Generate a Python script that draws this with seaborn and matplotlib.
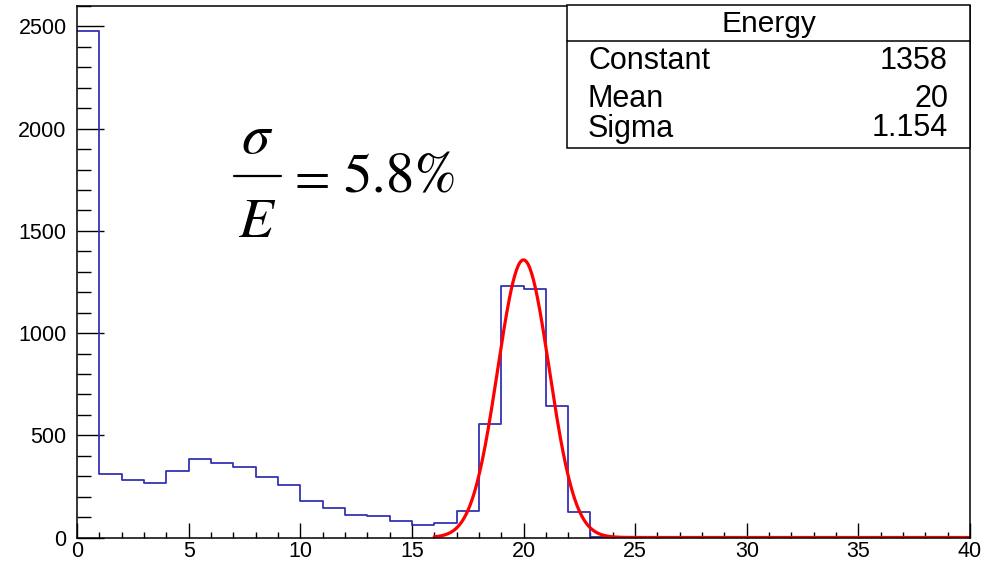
import numpy as np
import pandas as pd
import matplotlib
matplotlib.use("Agg")
import matplotlib.pyplot as plt
import seaborn as sns
from matplotlib.ticker import MultipleLocator

# ---- data ----
bin_edges = list(range(0, 41))
bin_counts = [2476, 311, 281, 268, 325, 383, 363, 344, 295, 255,
              180, 145, 110, 107, 80, 61, 72, 129, 557, 1229,
              1216, 642, 123, 3, 1, 0, 0, 0, 0, 0,
              0, 0, 0, 0, 0, 0, 0, 0, 0, 0]
fit_constant = 1358
fit_mean = 20
fit_sigma = 1.154
fit_range = [16, 40]
stat_names = ["Constant", "Mean", "Sigma"]
stat_values = ["1358", "20", "1.154"]
x_ticks = [0, 5, 10, 15, 20, 25, 30, 35, 40]
y_ticks = [0, 500, 1000, 1500, 2000, 2500]

sns.set_theme(style="white")
plt.rcParams["font.family"] = ["Liberation Sans", "DejaVu Sans"]
plt.rcParams["mathtext.fontset"] = "stix"
plt.rcParams["text.color"] = "black"
plt.rcParams["xtick.color"] = "black"
plt.rcParams["ytick.color"] = "black"

W, H = 991, 561
fig = plt.figure(figsize=(W / 100, H / 100), dpi=100)
L, R, T, B = 77, 970, 6, 537.5
ax = fig.add_axes([L / W, 1 - B / H, (R - L) / W, (B - T) / H])

centers = [e + 0.5 for e in bin_edges[:-1]]
df = pd.DataFrame({"x": centers, "w": bin_counts})
sns.histplot(data=df, x="x", weights="w", bins=bin_edges, element="step",
             fill=False, color="#3434b4", linewidth=1.3, ax=ax)

xs = np.linspace(fit_range[0], fit_range[1], 600)
ys = fit_constant * np.exp(-0.5 * ((xs - fit_mean) / fit_sigma) ** 2)
sns.lineplot(x=xs, y=ys, color="#ff0000", linewidth=2.3, ax=ax)

ax.set_xlim(0, 40)
ax.set_ylim(0, 2600)
ax.set_xlabel("")
ax.set_ylabel("")
ax.set_xticks(x_ticks)
ax.set_yticks(y_ticks)
ax.xaxis.set_minor_locator(MultipleLocator(1))
ax.yaxis.set_minor_locator(MultipleLocator(100))
ax.tick_params(axis="x", which="major", direction="in", length=11, width=1,
               color="black", labelsize=15.5, pad=2.5, bottom=True, top=False,
               labelcolor="black")
ax.tick_params(axis="x", which="minor", direction="in", length=4.3, width=1,
               color="black", bottom=True, top=False)
ax.tick_params(axis="y", which="major", direction="in", length=19.5, width=1,
               color="black", labelsize=15.5, pad=7.5, left=True, right=False,
               labelcolor="black")
ax.tick_params(axis="y", which="minor", direction="in", length=9.8, width=1,
               color="black", left=True, right=False)
for s in ax.spines.values():
    s.set_color("black")
    s.set_linewidth(1.1)

# resolution annotation: sigma / E = 5.8%
fsz = 41
fig.text(257 / W, 1 - 153 / H, r"$\sigma$", ha="center", va="baseline",
         fontsize=fsz)
fig.add_artist(plt.Line2D([234 / W, 281 / W], [1 - 175.7 / H, 1 - 175.7 / H],
                          transform=fig.transFigure, color="black",
                          linewidth=1.6))
fig.text(257 / W, 1 - 237 / H, r"$E$", ha="center", va="baseline",
         fontsize=fsz)
fig.text(312.5 / W, 1 - 176 / H, "=", ha="center", va="center_baseline",
         fontsize=37, family="STIXGeneral")
fig.text(343 / W, 1 - 192 / H, "5.8%", ha="left", va="baseline",
         fontsize=fsz, family="STIXGeneral")

# stats box
bx0, bx1, by0, by1, bhead = 567, 970, 5, 148, 41
box = plt.Rectangle((bx0 / W, 1 - by1 / H), (bx1 - bx0) / W, (by1 - by0) / H,
                    transform=fig.transFigure, facecolor="white",
                    edgecolor="black", linewidth=1.1, zorder=5)
fig.add_artist(box)
fig.add_artist(plt.Line2D([bx0 / W, bx1 / W], [1 - bhead / H, 1 - bhead / H],
                          transform=fig.transFigure, color="black",
                          linewidth=1.1, zorder=6))
sfs = 22
fig.text((bx0 + bx1) / 2 / W, 1 - 32 / H, "Energy", ha="center", va="baseline",
         fontsize=21.5, zorder=7)
for name, val, yb in zip(stat_names, stat_values, [69, 107, 136.5]):
    fig.text(588 / W, 1 - yb / H, name, ha="left", va="baseline",
             fontsize=sfs, zorder=7)
    fig.text(948 / W, 1 - yb / H, val, ha="right", va="baseline",
             fontsize=sfs, zorder=7)

fig.savefig("out.png", dpi=100)
